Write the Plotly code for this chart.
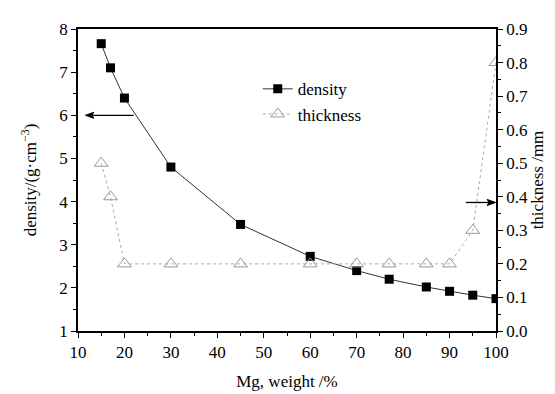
import plotly.graph_objects as go

mg = [15, 17, 20, 30, 45, 60, 70, 77, 85, 90, 95, 100]
density = [7.66, 7.10, 6.40, 4.80, 3.47, 2.73, 2.40, 2.20, 2.02, 1.92, 1.83, 1.75]
thickness = [0.50, 0.40, 0.20, 0.20, 0.20, 0.20, 0.20, 0.20, 0.20, 0.20, 0.30, 0.80]

FONT = "'Liberation Serif', 'Times New Roman', serif"
FS = 17

fig = go.Figure()
fig.add_trace(go.Scatter(
    x=mg, y=density, name="density", mode="lines+markers",
    line=dict(color="#333333", width=1),
    marker=dict(symbol="square", size=9, color="black"),
))
fig.add_trace(go.Scatter(
    x=mg, y=thickness, name="thickness", mode="lines+markers", yaxis="y2",
    line=dict(color="#aaaaaa", width=1, dash="3px,3px"),
    marker=dict(symbol="triangle-up-open", size=12, color="#999999", line=dict(width=1)),
))

axis_common = dict(
    showline=True, linecolor="black", linewidth=1.5,
    ticks="outside", ticklen=5, tickwidth=1, tickcolor="black",
    showgrid=False, zeroline=False,
    tickfont=dict(family=FONT, size=FS, color="black"),
)

fig.update_layout(
    width=555, height=394,
    margin=dict(l=70, r=67, t=13, b=71),
    paper_bgcolor="white", plot_bgcolor="white",
    font=dict(family=FONT, size=FS, color="black"),
    showlegend=True,
    legend=dict(x=0.43, y=0.86, xanchor="left", yanchor="top",
                bgcolor="rgba(0,0,0,0)", font=dict(family=FONT, size=FS),
                itemwidth=30, tracegroupgap=0),
    xaxis=dict(range=[10, 100], dtick=10, mirror=True,
               minor=dict(ticks="outside", dtick=5, ticklen=3, tickcolor="black"),
               title=dict(text="Mg, weight /%", font=dict(family=FONT, size=FS), standoff=14),
               **axis_common),
    yaxis=dict(range=[1, 8], dtick=1,
               minor=dict(ticks="outside", dtick=0.5, ticklen=3, tickcolor="black"),
               title=dict(text="density/(g·cm<sup>−3</sup>)", font=dict(family=FONT, size=FS), standoff=18),
               **axis_common),
    yaxis2=dict(range=[0, 0.9], dtick=0.1, tickformat=".1f", overlaying="y", side="right",
                minor=dict(ticks="outside", dtick=0.05, ticklen=3, tickcolor="black"),
                title=dict(text="thickness /mm", font=dict(family=FONT, size=FS), standoff=4),
                **axis_common),
)

# Left arrow (density axis indicator)
fig.add_shape(type="line", x0=22, x1=12.5, y0=6, y1=6, xref="x", yref="y",
              line=dict(color="black", width=1.3))
fig.add_shape(type="path", xref="x", yref="y", fillcolor="black", line=dict(color="black", width=1),
              path="M 11.6 6 L 13.4 6.07 L 13.0 6 L 13.4 5.93 Z")
# Right arrow (thickness axis indicator)
fig.add_shape(type="line", x0=93.5, x1=99.0, y0=0.383, y1=0.383, xref="x", yref="y2",
              line=dict(color="black", width=1.3))
fig.add_shape(type="path", xref="x", yref="y2", fillcolor="black", line=dict(color="black", width=1),
              path="M 99.9 0.383 L 98.1 0.392 L 98.5 0.383 L 98.1 0.374 Z")

fig.write_html("out.html")
